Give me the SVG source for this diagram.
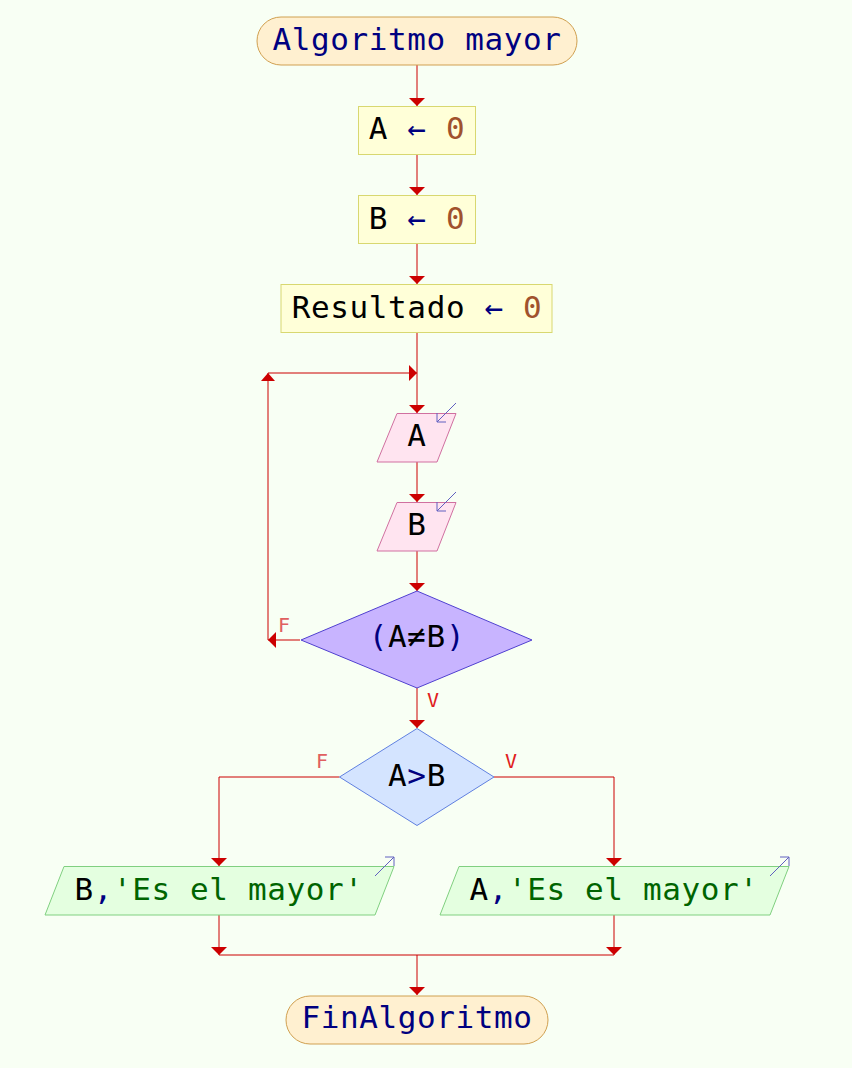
<svg xmlns="http://www.w3.org/2000/svg" width="852" height="1068" viewBox="0 0 852 1068">
<style>
text{font-family:"DejaVu Sans Mono","Liberation Mono",monospace;font-size:31px;letter-spacing:0.6px;text-anchor:middle}
.kw{fill:#000080}.v{fill:#000000}.n{fill:#a0522d}.s{fill:#006400}
.term{fill:#fff0d0;stroke:#d0a050;stroke-width:1}
.box{fill:#ffffd8;stroke:#d8d870;stroke-width:1}
.inp{fill:#ffe4f0;stroke:#d070a0;stroke-width:1}
.out{fill:#e4ffe0;stroke:#80d080;stroke-width:1}
.d1{fill:#c8b4ff;stroke:#5040d0;stroke-width:1}
.d2{fill:#d4e4ff;stroke:#6080e0;stroke-width:1}
.ind{fill:none;stroke:#6060c0;stroke-width:1}
.c{fill:none;stroke:#cc0000;stroke-width:1}
.ah{fill:#cc0000}
.lf{font-size:20px;letter-spacing:0;fill:#e06060}
.lv{font-size:20px;letter-spacing:0;fill:#e02020}
</style>
<rect width="852" height="1068" fill="#f8fff4"/>
<g id="connectors">
<path class="c" d="M417 65V106M417 154V195M417 243V284M417 332V413M417 462V502M417 551V591M417 688V728"/>
<path class="c" d="M300 640H268V373H417"/>
<path class="c" d="M339.5 777H219V866M494 777H614V866"/>
<path class="c" d="M219 915V955H614V915M417 955V995"/>
<path class="ah" d="M417 106l-8-8h16zM417 195l-8-8h16zM417 284l-8-8h16zM417 413l-8-8h16zM417 502l-8-8h16zM417 591l-8-8h16zM417 728l-8-8h16zM219 866l-8-8h16zM614 866l-8-8h16zM219 955l-8-8h16zM614 955l-8-8h16zM417 995l-8-8h16z"/>
<path class="ah" d="M417 373l-8-8v16zM268 373l-7 8h14zM268 640l8-8v16z"/>
<text class="lf" x="284" y="632">F</text>
<text class="lv" x="433" y="707">V</text>
<text class="lf" x="322" y="768">F</text>
<text class="lv" x="511" y="768">V</text>
</g>
<g id="start">
<rect class="term" x="257" y="17" width="320" height="48" rx="24"/>
<text x="417" y="49.5" class="kw">Algoritmo mayor</text>
</g>
<g id="assignA">
<rect class="box" x="358.5" y="106.5" width="117" height="48"/>
<text x="417" y="139.3"><tspan class="v">A</tspan> <tspan class="kw">←</tspan> <tspan class="n">0</tspan></text>
</g>
<g id="assignB">
<rect class="box" x="358.5" y="195.5" width="117" height="48"/>
<text x="417" y="228.5"><tspan class="v">B</tspan> <tspan class="kw">←</tspan> <tspan class="n">0</tspan></text>
</g>
<g id="assignRes">
<rect class="box" x="281" y="284.5" width="271" height="48"/>
<text x="417" y="317.5"><tspan class="v">Resultado</tspan> <tspan class="kw">←</tspan> <tspan class="n">0</tspan></text>
</g>
<g id="readA">
<path class="inp" d="M397 413.5H456L437 462H377Z"/>
<path class="ind" d="M456 403L437 422M437 413V422H446"/>
<text x="417" y="446" class="v">A</text>
</g>
<g id="readB">
<path class="inp" d="M397 502.5H456L437 551H377Z"/>
<path class="ind" d="M456 492L437 511M437 502V511H446"/>
<text x="417" y="535" class="v">B</text>
</g>
<g id="loopCond">
<path class="d1" d="M417 591L532 640L417 688L301 640Z"/>
<text x="417" y="647"><tspan class="kw">(</tspan><tspan class="v">A≠B</tspan><tspan class="kw">)</tspan></text>
</g>
<g id="ifCond">
<path class="d2" d="M417 728.5L494 777L417 825.5L339.5 777Z"/>
<text x="417" y="786"><tspan class="v">A</tspan><tspan class="kw">&gt;</tspan><tspan class="v">B</tspan></text>
</g>
<g id="outB">
<path class="out" d="M64 866.5H394L375 915H45Z"/>
<path class="ind" d="M375 876L394 857M385 857H394V866"/>
<text x="219" y="900"><tspan class="v">B</tspan><tspan class="kw">,</tspan><tspan class="s">'Es el mayor'</tspan></text>
</g>
<g id="outA">
<path class="out" d="M459 866.5H789L770 915H440Z"/>
<path class="ind" d="M770 876L789 857M780 857H789V866"/>
<text x="614" y="900"><tspan class="v">A</tspan><tspan class="kw">,</tspan><tspan class="s">'Es el mayor'</tspan></text>
</g>
<g id="end">
<rect class="term" x="286" y="996" width="262" height="48" rx="24"/>
<text x="417" y="1028" class="kw">FinAlgoritmo</text>
</g>
</svg>
